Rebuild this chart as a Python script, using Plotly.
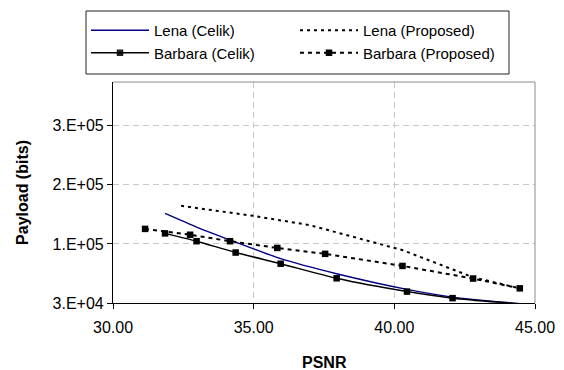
import plotly.graph_objects as go

# ---- data ----
lena_celik_x = [31.85, 32.97, 34.36, 35.96, 37.95, 40.45, 42.07, 44.9]
lena_celik_y = [181500, 158500, 133000, 105000, 79500, 53000, 40000, 27000]

lena_prop_x = [32.42, 34.98, 37.0, 38.95, 40.3, 42.8, 44.46]
lena_prop_y = [194400, 177500, 161700, 136300, 119300, 73500, 54800]

barbara_celik_x = [31.85, 32.97, 34.36, 35.96, 37.95, 40.45, 42.07, 44.9]
barbara_celik_y = [147800, 134600, 115400, 96500, 71800, 49300, 38200, 27000]

barbara_prop_x = [31.14, 32.74, 34.16, 35.84, 37.54, 40.29, 42.8, 44.46]
barbara_prop_y = [155400, 145500, 134600, 123200, 113200, 92700, 71400, 54800]

y_tickvals = [30000, 130000, 230000, 330000]
y_ticktext = ["3.E+04", "1.E+05", "2.E+05", "3.E+05"]

FONT = "Liberation Sans, Arial, sans-serif"

fig = go.Figure()

fig.add_trace(go.Scatter(
    x=lena_celik_x, y=lena_celik_y, name="Lena (Celik)", mode="lines",
    line=dict(color="#000080", width=1.4, shape="spline", smoothing=0.6)))

fig.add_trace(go.Scatter(
    x=lena_prop_x, y=lena_prop_y, name="Lena (Proposed)", mode="lines",
    line=dict(color="black", width=2, dash="3px,4px")))

n_bc = len(barbara_celik_x)
fig.add_trace(go.Scatter(
    x=barbara_celik_x, y=barbara_celik_y, name="Barbara (Celik)", mode="lines+markers",
    line=dict(color="black", width=1.5, shape="spline", smoothing=0.6),
    marker=dict(symbol="square", size=6.5, color="black",
                opacity=[1] * (n_bc - 1) + [0])))

fig.add_trace(go.Scatter(
    x=barbara_prop_x, y=barbara_prop_y, name="Barbara (Proposed)", mode="lines+markers",
    line=dict(color="black", width=2, dash="4px,4px"),
    marker=dict(symbol="square", size=6.5, color="black")))

L, R, T, B = 113, 29, 82, 67
W, H = 564, 370
pw, ph = W - L - R, H - T - B


def px_x(p):
    return (p - L) / pw


def px_y(p):
    return (H - B - p) / ph


fig.update_layout(
    width=W, height=H,
    margin=dict(l=L, r=R, t=T, b=B, autoexpand=False),
    paper_bgcolor="white", plot_bgcolor="white",
    font=dict(family=FONT, size=16, color="black"),
    showlegend=True,
    legend=dict(
        orientation="h",
        x=px_x(86), xanchor="left",
        y=px_y(14), yanchor="top",
        entrywidth=136, entrywidthmode="pixels",
        itemwidth=58,
        bgcolor="rgba(0,0,0,0)", borderwidth=0,
        font=dict(family=FONT, size=15, color="black"),
        traceorder="normal",
    ),
    xaxis=dict(
        range=[30, 45], dtick=5, tick0=30, tickformat=".2f",
        showline=True, linecolor="black", linewidth=1.2,
        ticks="outside", ticklen=5, tickcolor="black",
        ticklabelstandoff=5, automargin=False,
        showgrid=True, gridcolor="#c8c8c8", griddash="6px,4px", gridwidth=1,
        zeroline=False,
        tickfont=dict(family=FONT, size=16),
    ),
    yaxis=dict(
        range=[30000, 404000],
        tickvals=y_tickvals, ticktext=y_ticktext,
        showline=True, linecolor="black", linewidth=1.2,
        ticks="outside", ticklen=5, tickcolor="black",
        automargin=False,
        showgrid=True, gridcolor="#c8c8c8", griddash="6px,4px", gridwidth=1,
        zeroline=False,
        tickfont=dict(family=FONT, size=16),
        title=dict(text="<b>Payload (bits)</b>", font=dict(family=FONT, size=16), standoff=19),
    ),
)

# x-axis title placed as in the reference
fig.add_annotation(text="<b>PSNR</b>", xref="paper", yref="paper",
                   x=0.5, y=px_y(362), xanchor="center", yanchor="middle",
                   showarrow=False, font=dict(family=FONT, size=16, color="black"))

# grey top and right border of the plot area
fig.add_shape(type="line", xref="paper", yref="paper", x0=0, x1=1, y0=1, y1=1,
              line=dict(color="#8c8c8c", width=1))
fig.add_shape(type="line", xref="paper", yref="paper", x0=1, x1=1, y0=0, y1=1,
              line=dict(color="#8c8c8c", width=1))
# legend frame
fig.add_shape(type="rect", xref="paper", yref="paper",
              x0=px_x(86), x1=px_x(509), y0=px_y(74), y1=px_y(11),
              line=dict(color="#222222", width=1), fillcolor="rgba(0,0,0,0)")

fig.write_html("out.html")
